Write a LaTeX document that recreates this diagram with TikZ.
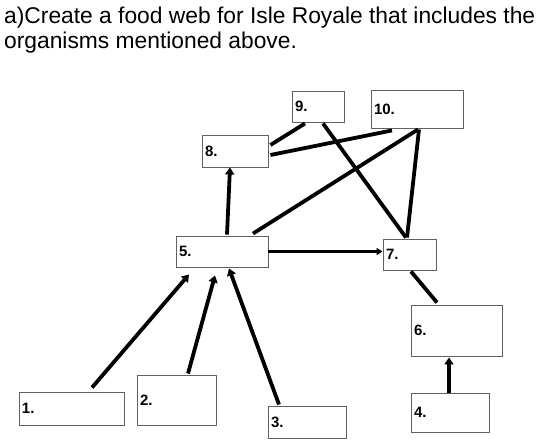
\documentclass[tikz,border=0pt]{standalone}
\usepackage{fontspec}
\setmainfont{Liberation Sans}
\usetikzlibrary{arrows.meta,calc}

\begin{document}
\begin{tikzpicture}[x=1pt,y=-1pt,
	organism/.style={draw=black!62,line width=0.9pt,fill=white,inner xsep=3pt,inner ysep=0pt,align=left,font=\fontsize{15}{16}\selectfont\bfseries},
	link/.style={line width=3.8pt,black},
	eats/.style={link,-{Triangle[length=7pt,width=9pt]}}]
	\useasboundingbox (0,0) rectangle (542,444);
	% question
	\node (title1) [anchor=base west,inner sep=0pt,font=\fontsize{22.8}{25}\selectfont] at (4,24) {a)Create a food web for Isle Royale that includes the};
	\node (title2) [anchor=base west,inner sep=0pt,font=\fontsize{22.8}{25}\selectfont] at (4,49) {organisms mentioned above.};
	% boxes
	\node (b1) [organism,text width=99pt,minimum height=33pt] at (71.5,408.5) {1.};
	\node (b2) [organism,text width=73pt,minimum height=50pt] at (176.5,400) {2.};
	\node (b3) [organism,text width=72pt,minimum height=32pt] at (307,422) {3.};
	\node (b4) [organism,text width=72pt,minimum height=39pt] at (450,412.5) {4.};
	\node (b5) [organism,text width=86pt,minimum height=31pt] at (222,251.5) {5.};
	\node (b6) [organism,text width=85pt,minimum height=51pt] at (456.5,330.5) {6.};
	\node (b7) [organism,text width=47pt,minimum height=31pt] at (409.5,254.5) {7.};
	\node (b8) [organism,text width=60pt,minimum height=32pt] at (235,151) {8.};
	\node (b9) [organism,text width=46pt,minimum height=31pt] at (318,106.5) {9.};
	\node (b10) [organism,text width=86pt,minimum height=38pt] at (417,109) {10.};
	% arrows
	\draw [eats] ([xshift=20.5pt,yshift=4pt]b1.north) -- ([xshift=-33pt,yshift=-7pt]b5.south);
	\draw [eats] ([xshift=11.5pt,yshift=1pt]b2.north) -- ([xshift=-7pt,yshift=-8pt]b5.south);
	\draw [eats] ([xshift=-28pt,yshift=1pt]b3.north) -- ([xshift=7pt,yshift=-1pt]b5.south);
	\draw [eats] ([xshift=-1pt]b4.north) -- ([xshift=-7.5pt,yshift=-1pt]b6.south);
	\draw [eats] ([xshift=5pt,yshift=1pt]b5.north) -- ([xshift=-5pt]b8.south);
	\draw [link,-{Triangle[length=6pt,width=7pt]}] (b5.east) -- (b5.east -| b7.west);
	% lines
	\draw [link] ([xshift=-19.5pt,yshift=2pt]b6.north) -- ([xshift=1.5pt,yshift=-1pt]b7.south);
	\draw [link] ([xshift=31pt,yshift=2pt]b5.north) -- ([xshift=1pt,yshift=-1pt]b10.south);
	\draw [link] ([xshift=-2.5pt,yshift=1pt]b7.north) -- ([xshift=2pt,yshift=-1pt]b10.south);
	\draw [link] ([xshift=-3.5pt,yshift=1pt]b7.north) -- ([xshift=5pt,yshift=-1pt]b9.south);
	\draw [link] ([xshift=2pt,yshift=6pt]b8.east) -- ([xshift=-13pt,yshift=-1pt]b9.south);
	\draw [link] ([xshift=2pt,yshift=-4pt]b8.east) -- ([xshift=-25pt,yshift=-2pt]b10.south);
\end{tikzpicture}
\end{document}
